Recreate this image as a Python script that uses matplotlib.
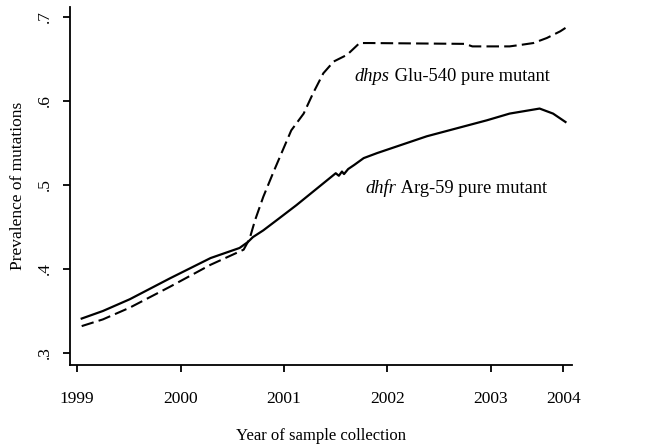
import matplotlib
matplotlib.use('Agg')
import matplotlib.pyplot as plt

plt.rcParams['font.family'] = ['Liberation Serif', 'DejaVu Serif']

# dhfr Arg-59 pure mutant (solid)
dhfr_year = [1999.045, 1999.25, 1999.51, 1999.90, 2000.29, 2000.57, 2000.65,
             2000.70, 2000.80, 2000.95, 2001.12, 2001.30, 2001.44, 2001.50,
             2001.53, 2001.56, 2001.58, 2001.62, 2001.68, 2001.77, 2001.90,
             2002.38, 2002.96, 2003.18, 2003.47, 2003.60, 2003.72]
dhfr_prev = [0.341, 0.350, 0.364, 0.389, 0.413, 0.425, 0.432,
             0.438, 0.446, 0.460, 0.476, 0.494, 0.508, 0.514,
             0.511, 0.516, 0.513, 0.519, 0.524, 0.532, 0.538,
             0.558, 0.577, 0.585, 0.591, 0.585, 0.575]

# dhps Glu-540 pure mutant (dashed)
dhps_year = [1999.045, 1999.25, 1999.51, 1999.90, 2000.29, 2000.61, 2000.65,
             2000.67, 2000.72, 2000.80, 2000.90, 2000.99, 2001.07, 2001.19,
             2001.28, 2001.38, 2001.48, 2001.61, 2001.73, 2001.83, 2002.75,
             2002.82, 2003.18, 2003.30, 2003.41, 2003.54, 2003.67, 2003.72]
dhps_prev = [0.332, 0.340, 0.354, 0.379, 0.405, 0.423, 0.432,
             0.437, 0.458, 0.486, 0.516, 0.542, 0.565, 0.585,
             0.609, 0.633, 0.647, 0.655, 0.669, 0.669, 0.668,
             0.665, 0.665, 0.667, 0.669, 0.675, 0.683, 0.687]

tick_pos = [1999, 2000, 2001, 2002, 2003, 2003.70]
tick_labels = ['1999', '2000', '2001', '2002', '2003', '2004']
ytick_pos = [0.3, 0.4, 0.5, 0.6, 0.7]
ytick_labels = ['.3', '.4', '.5', '.6', '.7']

fig = plt.figure(figsize=(6.47, 4.46), dpi=100)
ax = fig.add_axes([70 / 647, 1 - 365 / 446, 502 / 647, 358 / 446])

ax.plot(dhfr_year, dhfr_prev, color='black', lw=1.6)
ax.plot(dhps_year, dhps_prev, color='black', lw=1.5, dashes=(6, 2.5))

# labels: italic gene name followed by upright text
ax.text(2002.02, 0.6286, 'dhps', style='italic', fontsize=13.3,
        ha='right', va='center')
ax.text(2002.02, 0.6286, ' Glu-540 pure mutant', fontsize=13.3,
        ha='left', va='center')
ax.text(2002.09, 0.4964, 'dhfr', style='italic', fontsize=13.3,
        ha='right', va='center')
ax.text(2002.09, 0.4964, ' Arg-59 pure mutant', fontsize=13.3,
        ha='left', va='center')

ax.set_xlim(1998.932, 2003.783)
ax.set_ylim(0.2857, 0.7119)
ax.set_xticks(tick_pos)
ax.set_xticklabels(tick_labels, fontsize=12.5)
ax.set_yticks(ytick_pos)
ax.set_yticklabels(ytick_labels, fontsize=12.5, rotation=90, va='center')
ax.tick_params(direction='out', length=5, width=1.3)
ax.tick_params(axis='x', pad=14)
ax.tick_params(axis='y', pad=7)

for s in ['top', 'right']:
    ax.spines[s].set_visible(False)
for s in ['left', 'bottom']:
    ax.spines[s].set_linewidth(1.3)

ax.set_xlabel('Year of sample collection', fontsize=12, labelpad=15)
ax.set_ylabel('Prevalence of mutations', fontsize=12.5, labelpad=8)

fig.savefig('out.png', dpi=100)
